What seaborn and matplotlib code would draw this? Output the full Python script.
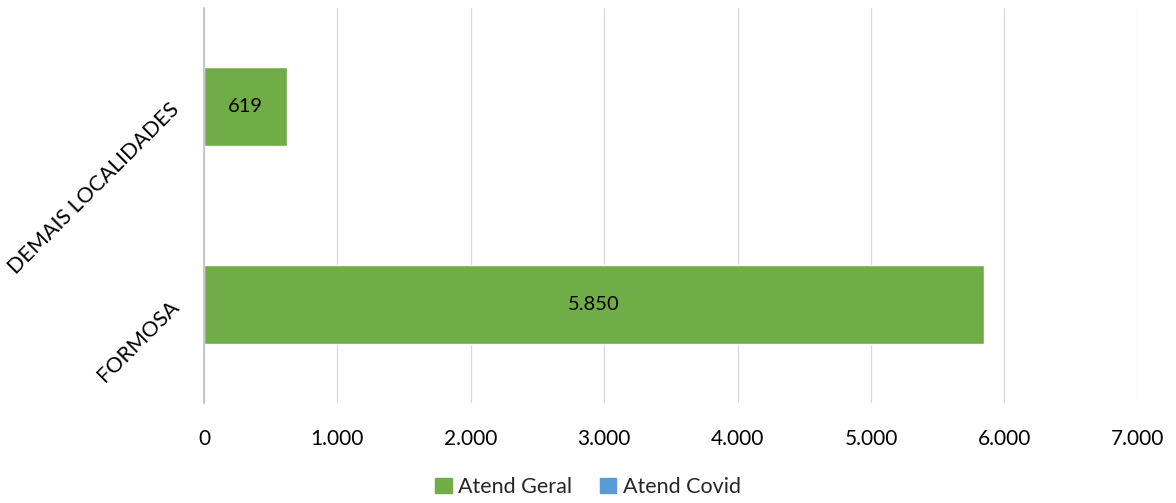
import pandas as pd
import matplotlib
matplotlib.use('Agg')
import matplotlib.pyplot as plt
import seaborn as sns
from matplotlib.patches import Patch
from matplotlib.ticker import FuncFormatter

# dados
localidades = ["DEMAIS LOCALIDADES", "FORMOSA"]
atend_geral = [619, 5850]
atend_covid = [0, 0]
x_ticks = [0, 1000, 2000, 3000, 4000, 5000, 6000, 7000]

COR_GERAL = "#70AD47"
COR_COVID = "#5B9BD5"


def fmt_pt(v):
    return f"{int(v):,}".replace(",", ".")


sns.set_theme(style="white")
plt.rcParams['font.family'] = ['Lato', 'DejaVu Sans']

df = pd.DataFrame({"local": localidades, "geral": atend_geral, "covid": atend_covid})
df["total"] = df["geral"] + df["covid"]

fig = plt.figure(figsize=(11.76, 5.03), dpi=100)
ax = fig.add_axes([0.1735, 0.199, 0.794, 0.785])

# empilhado: total (covid por cima) e depois geral
sns.barplot(data=df, x="total", y="local", color=COR_COVID, width=0.4,
            saturation=1, orient="h", ax=ax)
sns.barplot(data=df, x="geral", y="local", color=COR_GERAL, width=0.4,
            saturation=1, orient="h", ax=ax)

for i, v in enumerate(df["geral"]):
    ax.text(v / 2, i, fmt_pt(v), ha="center", va="center", fontsize=14.5, color="black")

ax.set_xlim(0, 7000)
ax.set_ylim(1.5, -0.5)
ax.set_xticks(x_ticks)
ax.xaxis.set_major_formatter(FuncFormatter(lambda v, p: fmt_pt(v)))
ax.tick_params(axis="x", labelsize=15, length=0, pad=19, colors="black")
ax.tick_params(axis="y", labelsize=15.5, length=0, pad=20, colors="black")
plt.setp(ax.get_yticklabels(), rotation=45, ha="right", va="center", rotation_mode="anchor")
ax.set_xlabel("")
ax.set_ylabel("")

ax.grid(axis="x", color="#D9D9D9", linewidth=0.9)
ax.set_axisbelow(True)
for s in ["top", "right", "bottom"]:
    ax.spines[s].set_visible(False)
ax.spines["left"].set_color("#BFBFBF")
ax.spines["left"].set_linewidth(1.2)

handles = [Patch(color=COR_GERAL, label="Atend Geral"),
           Patch(color=COR_COVID, label="Atend Covid")]
fig.legend(handles=handles, loc="center", bbox_to_anchor=(0.5, 0.032), ncol=2,
           frameon=False, fontsize=15.5, handlelength=0.75, handleheight=0.75,
           handletextpad=0.3, columnspacing=1.3)

fig.savefig("out.png", dpi=100)
plt.close(fig)
